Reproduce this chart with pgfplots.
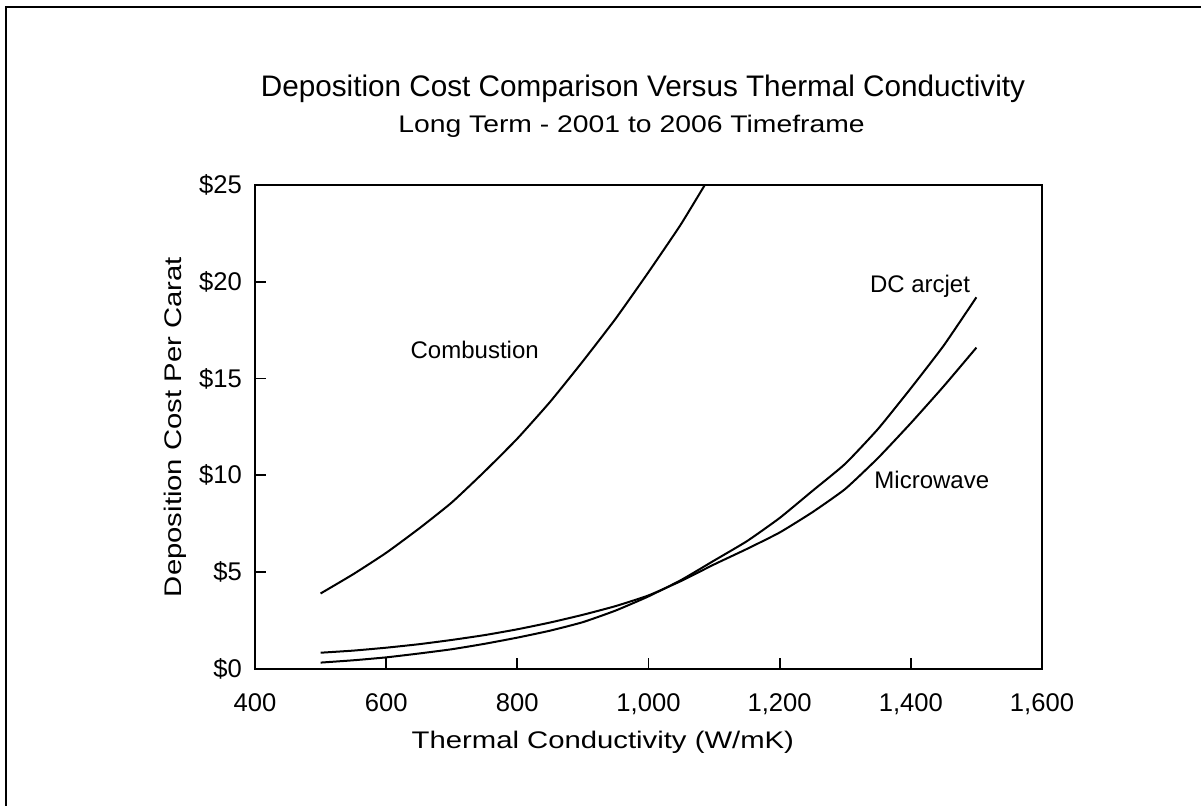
\documentclass[border=0pt]{standalone}
\usepackage{fontspec}
\setmainfont{Liberation Sans}
\newfontfamily\widefont[FakeStretch=1.22]{Liberation Sans}
\newfontfamily\subfont[FakeStretch=1.18]{Liberation Sans}
\usepackage{pgfplots}
\pgfplotsset{compat=1.18}

\begin{document}
\begin{tikzpicture}[x=1pt,y=1pt]
% page size: 1201x806 px at 0.5pt per px, axis origin at px (255,669)
\path[use as bounding box] (-127.5,-68.5) rectangle (473,334.5);
\draw[line width=0.8pt] (-124.5,-68.5) -- (-124.5,331) -- (473,331);

\begin{axis}[
    at={(0pt,0pt)}, anchor=origin,
    scale only axis,
    width=393.5pt, height=242pt,
    xmin=400, xmax=1600, ymin=0, ymax=25,
    xtick={400,600,800,1000,1200,1400,1600},
    xticklabels={400,600,800,{1,000},{1,200},{1,400},{1,600}},
    ytick={0,5,10,15,20,25},
    yticklabels={\$0,\$5,\$10,\$15,\$20,\$25},
    tick align=inside,
    xtick pos=bottom, ytick pos=left,
    major tick length=5.5pt,
    axis line style={line width=1.1pt},
    tick style={line width=0.9pt, black},
    tick label style={font=\fontsize{12.8}{15}\selectfont},
    xticklabel style={yshift=-9pt},
    yticklabel style={xshift=-3pt},
    label style={font=\widefont\fontsize{12}{14}\selectfont},
    xlabel={Thermal Conductivity (W/mK)},
    ylabel={Deposition Cost Per Carat},
    xlabel style={at={(axis description cs:0.442,0)}, anchor=center, yshift=-36.5pt},
    ylabel style={at={(axis description cs:0,0.5)}, anchor=center, yshift=40pt},
    /pgf/number format/assume math mode=true,
]
% Combustion
\addplot[black, line width=1pt, mark=none, smooth, tension=0.3] coordinates {
    (500,3.9) (550,4.9) (600,6.0) (650,7.25) (700,8.6) (750,10.2)
    (800,11.9) (850,13.8) (900,15.9) (950,18.1) (1000,20.5) (1050,23.0) (1100,25.8)
};
% DC arcjet
\addplot[black, line width=1pt, mark=none, smooth, tension=0.3] coordinates {
    (500,0.33) (550,0.45) (600,0.6) (650,0.8) (700,1.02) (750,1.3)
    (800,1.62) (850,1.98) (900,2.42) (950,3.02) (1000,3.75) (1050,4.6)
    (1100,5.6) (1150,6.6) (1200,7.8) (1250,9.2) (1300,10.6) (1350,12.4)
    (1400,14.5) (1450,16.7) (1500,19.2)
};
% Microwave
\addplot[black, line width=1pt, mark=none, smooth, tension=0.3] coordinates {
    (500,0.84) (550,0.95) (600,1.1) (650,1.28) (700,1.5) (750,1.75)
    (800,2.05) (850,2.4) (900,2.8) (950,3.25) (1000,3.8) (1050,4.55)
    (1100,5.4) (1150,6.2) (1200,7.05) (1250,8.1) (1300,9.3) (1350,10.9)
    (1400,12.7) (1450,14.6) (1500,16.6)
};
\node[font=\fontsize{12}{14}\selectfont] at (axis cs:735,16.5) {Combustion};
\node[font=\fontsize{12}{14}\selectfont] at (axis cs:1414,19.75) {DC arcjet};
\node[font=\fontsize{12}{14}\selectfont] at (axis cs:1432,9.76) {Microwave};
\end{axis}

\node[font=\fontsize{14.85}{17}\selectfont] at (194,290) {Deposition Cost Comparison Versus Thermal Conductivity};
\node[font=\subfont\fontsize{12}{14}\selectfont] at (188.25,271.5) {Long Term - 2001 to 2006 Timeframe};
\end{tikzpicture}
\end{document}
